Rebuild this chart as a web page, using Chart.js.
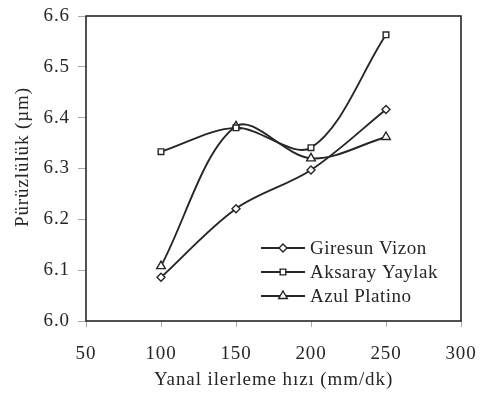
<!DOCTYPE html>
<html><head><meta charset="utf-8">
<script src="https://cdn.jsdelivr.net/npm/chart.js@4.4.0/dist/chart.umd.min.js"></script>
<style>html,body{margin:0;padding:0;background:#fff}#wrap{width:485px;height:401px}</style>
</head><body><div id="wrap"><canvas id="c" width="485" height="401"></canvas></div>
<script>
const xValues = [100, 150, 200, 250];
const giresunVizon = [6.086, 6.221, 6.297, 6.416];
const aksarayYaylak = [6.333, 6.380, 6.341, 6.563];
const azulPlatino = [6.108, 6.383, 6.320, 6.362];
const seriesNames = ['Giresun Vizon', 'Aksaray Yaylak', 'Azul Platino'];
const xTicks = [50, 100, 150, 200, 250, 300];
const yTicks = [6.0, 6.1, 6.2, 6.3, 6.4, 6.5, 6.6];
const yTitle = 'Pürüzlülük (µm)';
const xTitle = 'Yanal ilerleme hızı (mm/dk)';

const FONT = '"Liberation Serif", "Times New Roman", serif';
const INK = '#262626';

function pts(vals){ return xValues.map((x,i)=>({x:x,y:vals[i]})); }
function ds(label, vals, style, r){
  return {label, data: pts(vals), borderColor: INK, borderWidth: 1.9, tension: 0.33,
    pointStyle: style, pointRadius: r, pointBackgroundColor:'#fff', pointBorderColor: INK, pointBorderWidth: 1.4, fill:false};
}

const spacingPlugin = {
  id:'spacing',
  beforeLayout(chart){ chart.ctx.letterSpacing = '0.9px'; },
  beforeDraw(chart){ chart.ctx.letterSpacing = '0.9px'; }
};

const framePlugin = {
  id:'frame',
  afterDatasetsDraw(chart){
    const {ctx, chartArea:a} = chart;
    ctx.save();
    ctx.strokeStyle = INK; ctx.lineWidth = 1.6;
    ctx.strokeRect(a.left, a.top, a.right-a.left, a.bottom-a.top);
    // legend
    const lx = a.right - 200, ly = a.bottom - 73;
    chart.data.datasets.forEach((d,i)=>{
      const y = ly + i*24;
      ctx.strokeStyle = INK; ctx.lineWidth = 1.9;
      ctx.beginPath(); ctx.moveTo(lx, y); ctx.lineTo(lx+44, y); ctx.stroke();
      ctx.fillStyle='#fff'; ctx.lineWidth=1.4;
      Chart.helpers.drawPoint(ctx, {pointStyle:d.pointStyle, radius:d.pointRadius, borderWidth:1.4}, lx+22, y);
      ctx.fillStyle = INK; ctx.font = '19px ' + FONT; ctx.textBaseline='middle'; ctx.textAlign='left';
      ctx.letterSpacing = '0.5px';
      ctx.fillText(d.label, lx+49, y+1);
    });
    // y title
    ctx.translate(23, 157); ctx.rotate(-Math.PI/2);
    ctx.font = '19px ' + FONT; ctx.textAlign='center'; ctx.textBaseline='middle'; ctx.fillStyle=INK;
    ctx.letterSpacing = '0.9px';
    ctx.fillText(yTitle, 0, 0);
    ctx.restore();
  }
};

new Chart(document.getElementById('c'), {
  type:'line',
  data:{datasets:[
    ds(seriesNames[0], giresunVizon, 'rectRot', 4),
    ds(seriesNames[1], aksarayYaylak, 'rect', 4),
    ds(seriesNames[2], azulPlatino, 'triangle', 5)
  ]},
  options:{
    responsive:false, animation:false,
    layout:{padding:{left:0, right:24, top:16, bottom:0}},
    plugins:{legend:{display:false}, tooltip:{enabled:false}},
    scales:{
      x:{type:'linear', min:50, max:300,
        afterBuildTicks(s){ s.ticks = xTicks.map(v=>({value:v})); },
        afterFit(s){ s.height = 80; s.paddingLeft = 0; s.paddingRight = 0; },
        grid:{drawOnChartArea:false, drawTicks:true, tickLength:6, color:'#aaa'},
        border:{display:false},
        ticks:{font:{family:FONT, size:19}, color:INK, padding:16, maxRotation:0},
        title:{display:true, text:xTitle, font:{family:FONT, size:19}, color:INK, padding:{top:0,bottom:10}}
      },
      y:{type:'linear', min:6.0, max:6.6,
        afterBuildTicks(s){ s.ticks = yTicks.map(v=>({value:v})); },
        afterFit(s){ s.width = 86; s.paddingTop = 0; s.paddingBottom = 0; },
        grid:{drawOnChartArea:false, drawTicks:true, tickLength:8, color:'#aaa'},
        border:{display:false},
        ticks:{font:{family:FONT, size:19}, color:INK, padding:8, callback:v=>v.toFixed(1)},
        title:{display:false}
      }
    }
  },
  plugins:[spacingPlugin, framePlugin]
});
</script></body></html>
